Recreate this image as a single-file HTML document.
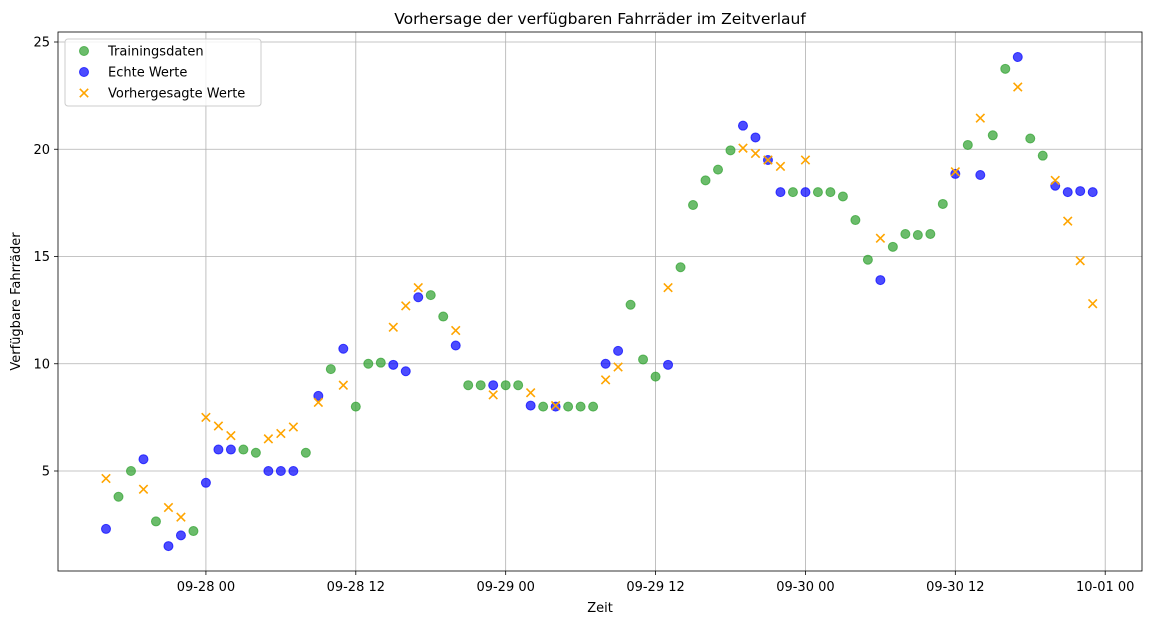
<!DOCTYPE html>
<html><head><meta charset="utf-8"><style>
body{margin:0;background:#fff;font-family:"DejaVu Sans","Liberation Sans",sans-serif;}
svg text{font-family:"DejaVu Sans","Liberation Sans",sans-serif;}
</style></head><body>
<svg id="c" width="1151" height="624" xmlns="http://www.w3.org/2000/svg"></svg>
<script>
const startHourLabel = "09-27 16:00";
const greenVals = [null,3.8,5.0,null,2.65,null,null,2.2,null,null,null,6.0,5.85,null,null,null,5.85,null,9.75,null,8.0,10.0,10.05,null,null,null,13.2,12.2,null,9.0,9.0,null,9.0,9.0,null,8.0,null,8.0,8.0,8.0,null,null,12.75,10.2,9.4,null,14.5,17.4,18.55,19.05,19.95,null,null,null,null,18.0,null,18.0,18.0,17.8,16.7,14.85,null,15.45,16.05,16.0,16.05,17.45,null,20.2,null,20.65,23.75,null,20.5,19.7,null,null,null,null];
const blueVals = [2.3,null,null,5.55,null,1.5,2.0,null,4.45,6.0,6.0,null,null,5.0,5.0,5.0,null,8.5,null,10.7,null,null,null,9.95,9.65,13.1,null,null,10.85,null,null,9.0,null,null,8.05,null,8.0,null,null,null,10.0,10.6,null,null,null,9.95,null,null,null,null,null,21.1,20.55,19.5,18.0,null,18.0,null,null,null,null,null,13.9,null,null,null,null,null,18.85,null,18.8,null,null,24.3,null,null,18.3,18.0,18.05,18.0];
const orangeVals = [4.65,null,null,4.15,null,3.3,2.85,null,7.5,7.1,6.65,null,null,6.5,6.75,7.05,null,8.2,null,9.0,null,null,null,11.7,12.7,13.55,null,null,11.55,null,null,8.55,null,null,8.65,null,8.05,null,null,null,9.25,9.85,null,null,null,13.55,null,null,null,null,null,20.05,19.8,19.5,19.2,null,19.5,null,null,null,null,null,15.85,null,null,null,null,null,18.95,null,21.45,null,null,22.9,null,null,18.55,16.65,14.8,12.8];
const xTickHours = [8,20,32,44,56,68,80];
const xTickLabels = ["09-28 00","09-28 12","09-29 00","09-29 12","09-30 00","09-30 12","10-01 00"];
const yTicks = [5,10,15,20,25];

const NS="http://www.w3.org/2000/svg";
const svg=document.getElementById('c');
const L=58,R=1142,T=32,B=571;
const xs=h=>106+h*12.49;
const ys=v=>471-(v-5)*21.45;
function el(tag,attrs,parent){const e=document.createElementNS(NS,tag);for(const k in attrs)e.setAttribute(k,attrs[k]);(parent||svg).appendChild(e);return e;}
function txt(s,attrs){const e=el('text',attrs);e.textContent=s;return e;}

// grid
xTickHours.forEach((h,i)=>{const x=xs(h);
 const g=el('line',{x1:x,x2:x,y1:T,y2:B,stroke:'#b0b0b0','stroke-width':0.8});
 
 el('line',{x1:x,x2:x,y1:B,y2:B+4,stroke:'#000','stroke-width':0.8});
 const t=txt(xTickLabels[i],{x:x,y:B+20,'font-size':13,'text-anchor':'middle',fill:'#000'});
 
});
yTicks.forEach(v=>{const y=ys(v);
 const g=el('line',{x1:L,x2:R,y1:y,y2:y,stroke:'#b0b0b0','stroke-width':0.8});
 
 el('line',{x1:L-4,x2:L,y1:y,y2:y,stroke:'#000','stroke-width':0.8});
 const t=txt(String(v),{x:L-8,y:y+4.5,'font-size':13,'text-anchor':'end',fill:'#000'});
 
});
const frame=el('rect',{x:L,y:T,width:R-L,height:B-T,fill:'none',stroke:'#000','stroke-width':0.8});


function dot(x,y,c,p){const e=el('circle',{cx:x,cy:y,r:4.5,fill:c,'fill-opacity':0.7,stroke:c,'stroke-opacity':0.7},p);return e;}
function cross(x,y,p){const g=el('g',{},p);
 el('line',{x1:x-4.2,y1:y-4.2,x2:x+4.2,y2:y+4.2,stroke:'orange','stroke-width':1.6},g);
 el('line',{x1:x-4.2,y1:y+4.2,x2:x+4.2,y2:y-4.2,stroke:'orange','stroke-width':1.6},g);return g;}

greenVals.forEach((v,h)=>{if(v==null)return;const e=dot(xs(h),ys(v),'#2ca02c');
 });
blueVals.forEach((v,h)=>{if(v==null)return;const e=dot(xs(h),ys(v),'#0000ff');
 });
orangeVals.forEach((v,h)=>{if(v==null)return;const e=cross(xs(h),ys(v));
 });

const title=txt('Vorhersage der verfügbaren Fahrräder im Zeitverlauf',{x:(L+R)/2,y:24,'font-size':15.5,'text-anchor':'middle',fill:'#000'});

const xt=txt('Zeit',{x:(L+R)/2,y:612,'font-size':13,'text-anchor':'middle',fill:'#000'});

const yt=txt('Verfügbare Fahrräder',{x:0,y:0,'font-size':13,'text-anchor':'middle',fill:'#000',transform:'translate(20,'+((T+B)/2)+') rotate(-90)'});


// legend
const lg=el('g',{});

el('rect',{x:65,y:39,width:196,height:67,rx:3,fill:'#fff','fill-opacity':0.8,stroke:'#ccc'},lg);
const items=[['Trainingsdaten','g'],['Echte Werte','b'],['Vorhergesagte Werte','o']];
items.forEach((it,i)=>{const y=51+i*21;
 const ent=el('g',{},lg);
 
 if(it[1]=='g')dot(84,y,'#2ca02c',ent);else if(it[1]=='b')dot(84,y,'#0000ff',ent);else cross(84,y,ent);
 const t=el('text',{x:108,y:y+4.5,'font-size':13,fill:'#000'},ent);t.textContent=it[0];
});
</script>
</body></html>
